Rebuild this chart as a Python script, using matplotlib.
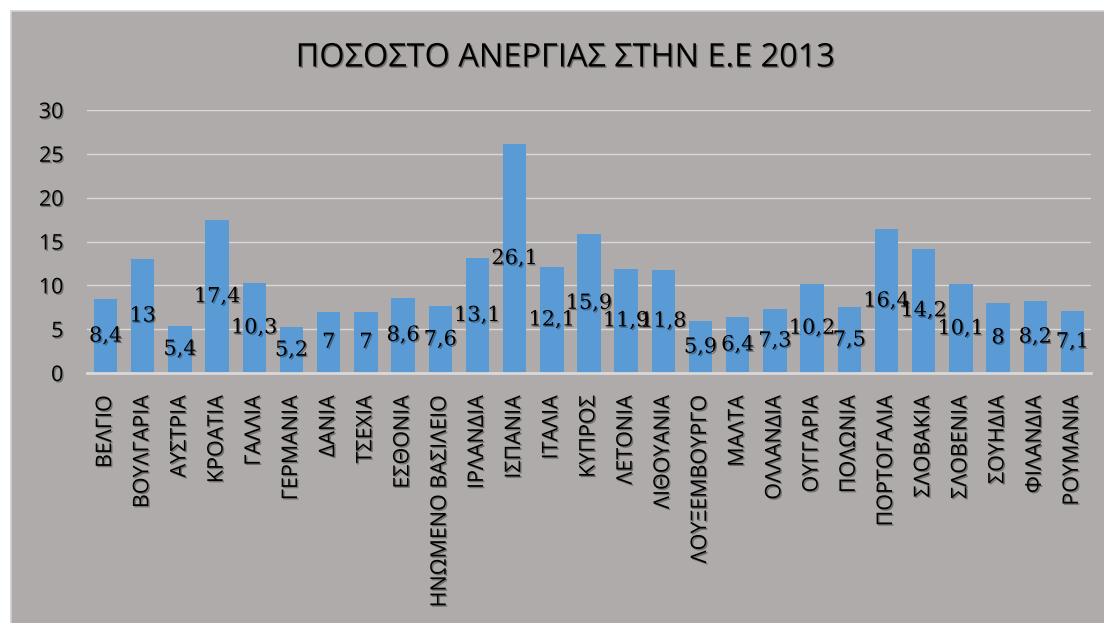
import matplotlib
matplotlib.use('Agg')
import matplotlib.pyplot as plt
import matplotlib.patheffects as pe
from matplotlib.patches import Rectangle

countries = ['ΒΕΛΓΙΟ', 'ΒΟΥΛΓΑΡΙΑ', 'ΑΥΣΤΡΙΑ', 'ΚΡΟΑΤΙΑ', 'ΓΑΛΛΙΑ', 'ΓΕΡΜΑΝΙΑ',
             'ΔΑΝΙΑ', 'ΤΣΕΧΙΑ', 'ΕΣΘΟΝΙΑ', 'ΗΝΩΜΕΝΟ ΒΑΣΙΛΕΙΟ', 'ΙΡΛΑΝΔΙΑ', 'ΙΣΠΑΝΙΑ',
             'ΙΤΑΛΙΑ', 'ΚΥΠΡΟΣ', 'ΛΕΤΟΝΙΑ', 'ΛΙΘΟΥΑΝΙΑ', 'ΛΟΥΞΕΜΒΟΥΡΓΟ', 'ΜΑΛΤΑ',
             'ΟΛΛΑΝΔΙΑ', 'ΟΥΓΓΑΡΙΑ', 'ΠΟΛΩΝΙΑ', 'ΠΟΡΤΟΓΑΛΙΑ', 'ΣΛΟΒΑΚΙΑ', 'ΣΛΟΒΕΝΙΑ',
             'ΣΟΥΗΔΙΑ', 'ΦΙΛΑΝΔΙΑ', 'ΡΟΥΜΑΝΙΑ']
unemployment = [8.4, 13, 5.4, 17.4, 10.3, 5.2, 7, 7, 8.6, 7.6, 13.1, 26.1,
                12.1, 15.9, 11.9, 11.8, 5.9, 6.4, 7.3, 10.2, 7.5, 16.4, 14.2, 10.1,
                8, 8.2, 7.1]
yticks = [0, 5, 10, 15, 20, 25, 30]

bg = '#afabab'
shadow = [pe.withSimplePatchShadow(offset=(1, -1), shadow_rgbFace='black', alpha=0.35)]

fig = plt.figure(figsize=(11.04, 6.23), dpi=100)
fig.patch.set_facecolor('white')
# chart area (gray panel with a thin light border), behind the axes
panel = Rectangle((11 / 1104, -0.01), 1.01, 1.01 - 11 / 623,
                  transform=fig.transFigure, facecolor=bg,
                  edgecolor='#d0d0d0', linewidth=1.2, zorder=-1)
fig.patches.append(panel)

ax = fig.add_axes([87 / 1104, 1 - 373 / 623, (1091 - 87) / 1104, (373 - 110) / 623])
ax.patch.set_alpha(0)

x = range(len(countries))
ax.bar(x, unemployment, width=0.63, color='#5b9bd5', zorder=2)

ax.set_xlim(-0.5, len(countries) - 0.5)
ax.set_ylim(0, 30)
ax.set_yticks(yticks)
ax.set_yticklabels([str(t) for t in yticks], fontsize=15.5, family='Open Sans',
                   color='black')
ax.yaxis.grid(True, color='#d9d9d9', linewidth=1, zorder=1)
ax.set_axisbelow(True)
for s in ['top', 'right', 'left']:
    ax.spines[s].set_visible(False)
ax.spines['bottom'].set_color('#d9d9d9')
ax.spines['bottom'].set_linewidth(2)
ax.tick_params(axis='both', length=0)
ax.tick_params(axis='y', pad=17)
ax.tick_params(axis='x', pad=16)

ax.set_xticks(list(x))
ax.set_xticklabels(countries, rotation=90, fontsize=15.5, family='Open Sans',
                   va='top', ha='center', color='black')
for lbl in ax.get_xticklabels() + ax.get_yticklabels():
    lbl.set_path_effects(shadow)

# data labels in the middle of each bar
for i, v in enumerate(unemployment):
    txt = ('%g' % v).replace('.', ',')
    ax.text(i, v / 2, txt, ha='center', va='center', fontsize=15,
            family='DejaVu Serif', color='black', zorder=3, path_effects=shadow)

fig.text(565 / 1104, 1 - 58 / 623, 'ΠΟΣΟΣΤΟ ΑΝΕΡΓΙΑΣ ΣΤΗΝ Ε.Ε 2013', ha='center',
         va='center', fontsize=23.4, family='Open Sans', color='black',
         path_effects=shadow)

fig.savefig('out.png', dpi=100, facecolor=fig.get_facecolor())
